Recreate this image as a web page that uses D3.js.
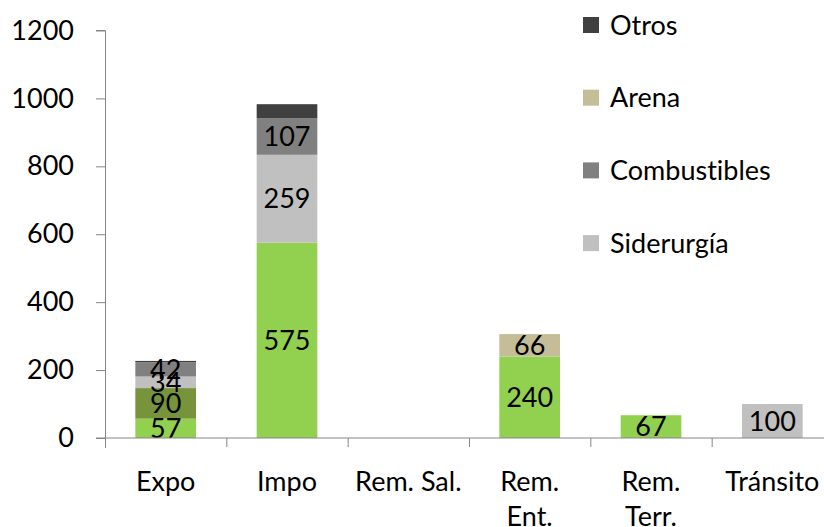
<!DOCTYPE html>
<html>
<head>
<meta charset="utf-8">
<script src="https://cdn.jsdelivr.net/npm/d3@7"></script>
<style>
  body { margin: 0; background: #fff; }
  svg { display: block; font-family: Lato, "Noto Sans", sans-serif; font-variant-ligatures: none; }
</style>
</head>
<body>
<svg id="chart" width="824" height="527"></svg>
<script>
// categories and their tick labels (with line breaks as in the original)
const categories = ["Expo", "Impo", "Rem. Sal.", "Rem. Ent.", "Rem. Terr.", "Tránsito"];
const tickLabels = [["Expo"], ["Impo"], ["Rem. Sal."], ["Rem.", "Ent."], ["Rem.", "Terr."], ["Tránsito"]];

// series, bottom to top
const seriesNames = ["Carga general", "Contenedores", "Siderurgía", "Combustibles", "Arena", "Otros"];
const cargaGeneral = [57, 575, 0, 240, 67, 0];
const contenedores = [90, 0, 0, 0, 0, 0];
const siderurgia   = [34, 259, 0, 0, 0, 100];
const combustibles = [42, 107, 0, 0, 0, 0];
const arena        = [0, 0, 0, 66, 0, 0];
const otros        = [4, 42, 0, 0, 0, 0];
const seriesColors = ["#92d050", "#77933c", "#c0c0c0", "#808080", "#c4bd97", "#404040"];
const showLabels   = [true, true, true, true, true, false];

const legendNames = ["Otros", "Arena", "Combustibles", "Siderurgía"];
const yTicks = [0, 200, 400, 600, 800, 1000, 1200];

const svg = d3.select("#chart");
const fontSize = 27;

const x = d3.scaleBand().domain(categories).range([105, 833]).paddingInner(0.5).paddingOuter(0.25);
const xOuter = d3.scaleBand().domain(categories).range([105, 833]);
const y = d3.scaleLinear().domain([0, 1200]).range([438, 30.5]);

// build table for d3.stack
const allSeries = [cargaGeneral, contenedores, siderurgia, combustibles, arena, otros];
const table = categories.map((c, i) => {
	const row = { cat: c };
	seriesNames.forEach((s, j) => row[s] = allSeries[j][i]);
	return row;
});
const stacked = d3.stack().keys(seriesNames)(table);

// bars
const layers = svg.append("g").selectAll("g")
	.data(stacked)
	.enter().append("g")
	.attr("fill", (d, i) => seriesColors[i]);

layers.selectAll("rect")
	.data(d => d.filter(p => p[1] - p[0] > 0))
	.enter().append("rect")
	.attr("x", d => x(d.data.cat))
	.attr("width", x.bandwidth())
	.attr("y", d => y(d[1]))
	.attr("height", d => y(d[0]) - y(d[1]));

// data labels
stacked.forEach((layer, i) => {
	if (!showLabels[i]) return;
	svg.append("g").selectAll("text")
		.data(layer.filter(p => p[1] - p[0] > 0))
		.enter().append("text")
		.attr("x", d => x(d.data.cat) + x.bandwidth() / 2)
		.attr("y", d => (y(d[0]) + y(d[1])) / 2)
		.attr("dy", "0.36em")
		.attr("text-anchor", "middle")
		.attr("font-size", fontSize)
		.attr("fill", "#000")
		.text(d => d[1] - d[0]);
});

// y axis
const yAxis = svg.append("g")
	.attr("transform", "translate(105,0)")
	.call(d3.axisLeft(y).tickValues(yTicks).tickSize(9).tickPadding(22).tickFormat(d3.format("d")));
yAxis.select(".domain").attr("stroke", "#868686").attr("d", "M-9,30.5H0.5V448");
yAxis.selectAll(".tick line").attr("stroke", "#868686");
yAxis.selectAll(".tick text").attr("font-size", fontSize).attr("font-family", "Lato").attr("fill", "#000");

// x axis: line and boundary ticks
svg.append("line")
	.attr("x1", 96).attr("x2", 833).attr("y1", 438).attr("y2", 438)
	.attr("stroke", "#868686");
svg.append("g").selectAll("line")
	.data(categories.slice(1))
	.enter().append("line")
	.attr("x1", d => xOuter(d) + 0.5).attr("x2", d => xOuter(d) + 0.5)
	.attr("y1", 438).attr("y2", 447)
	.attr("stroke", "#868686");

// x tick labels
const xl = svg.append("g").selectAll("text")
	.data(categories)
	.enter().append("text")
	.attr("x", d => xOuter(d) + xOuter.bandwidth() / 2)
	.attr("y", 491)
	.attr("text-anchor", "middle")
	.attr("font-size", fontSize)
	.attr("fill", "#000");
xl.selectAll("tspan")
	.data((d, i) => tickLabels[i])
	.enter().append("tspan")
	.attr("x", function() { return this.parentNode.getAttribute("x"); })
	.attr("dy", (d, i) => i === 0 ? 0 : 35)
	.text(d => d);

// legend
const legend = svg.append("g").selectAll("g")
	.data(legendNames)
	.enter().append("g")
	.attr("transform", (d, i) => `translate(583,${25 + i * 72.7})`);
legend.append("rect")
	.attr("x", 0).attr("y", -8).attr("width", 16).attr("height", 16)
	.attr("fill", d => seriesColors[seriesNames.indexOf(d)]);
legend.append("text")
	.attr("x", 27).attr("dy", "0.36em")
	.attr("font-size", fontSize)
	.attr("fill", "#000")
	.text(d => d);
</script>
</body>
</html>
